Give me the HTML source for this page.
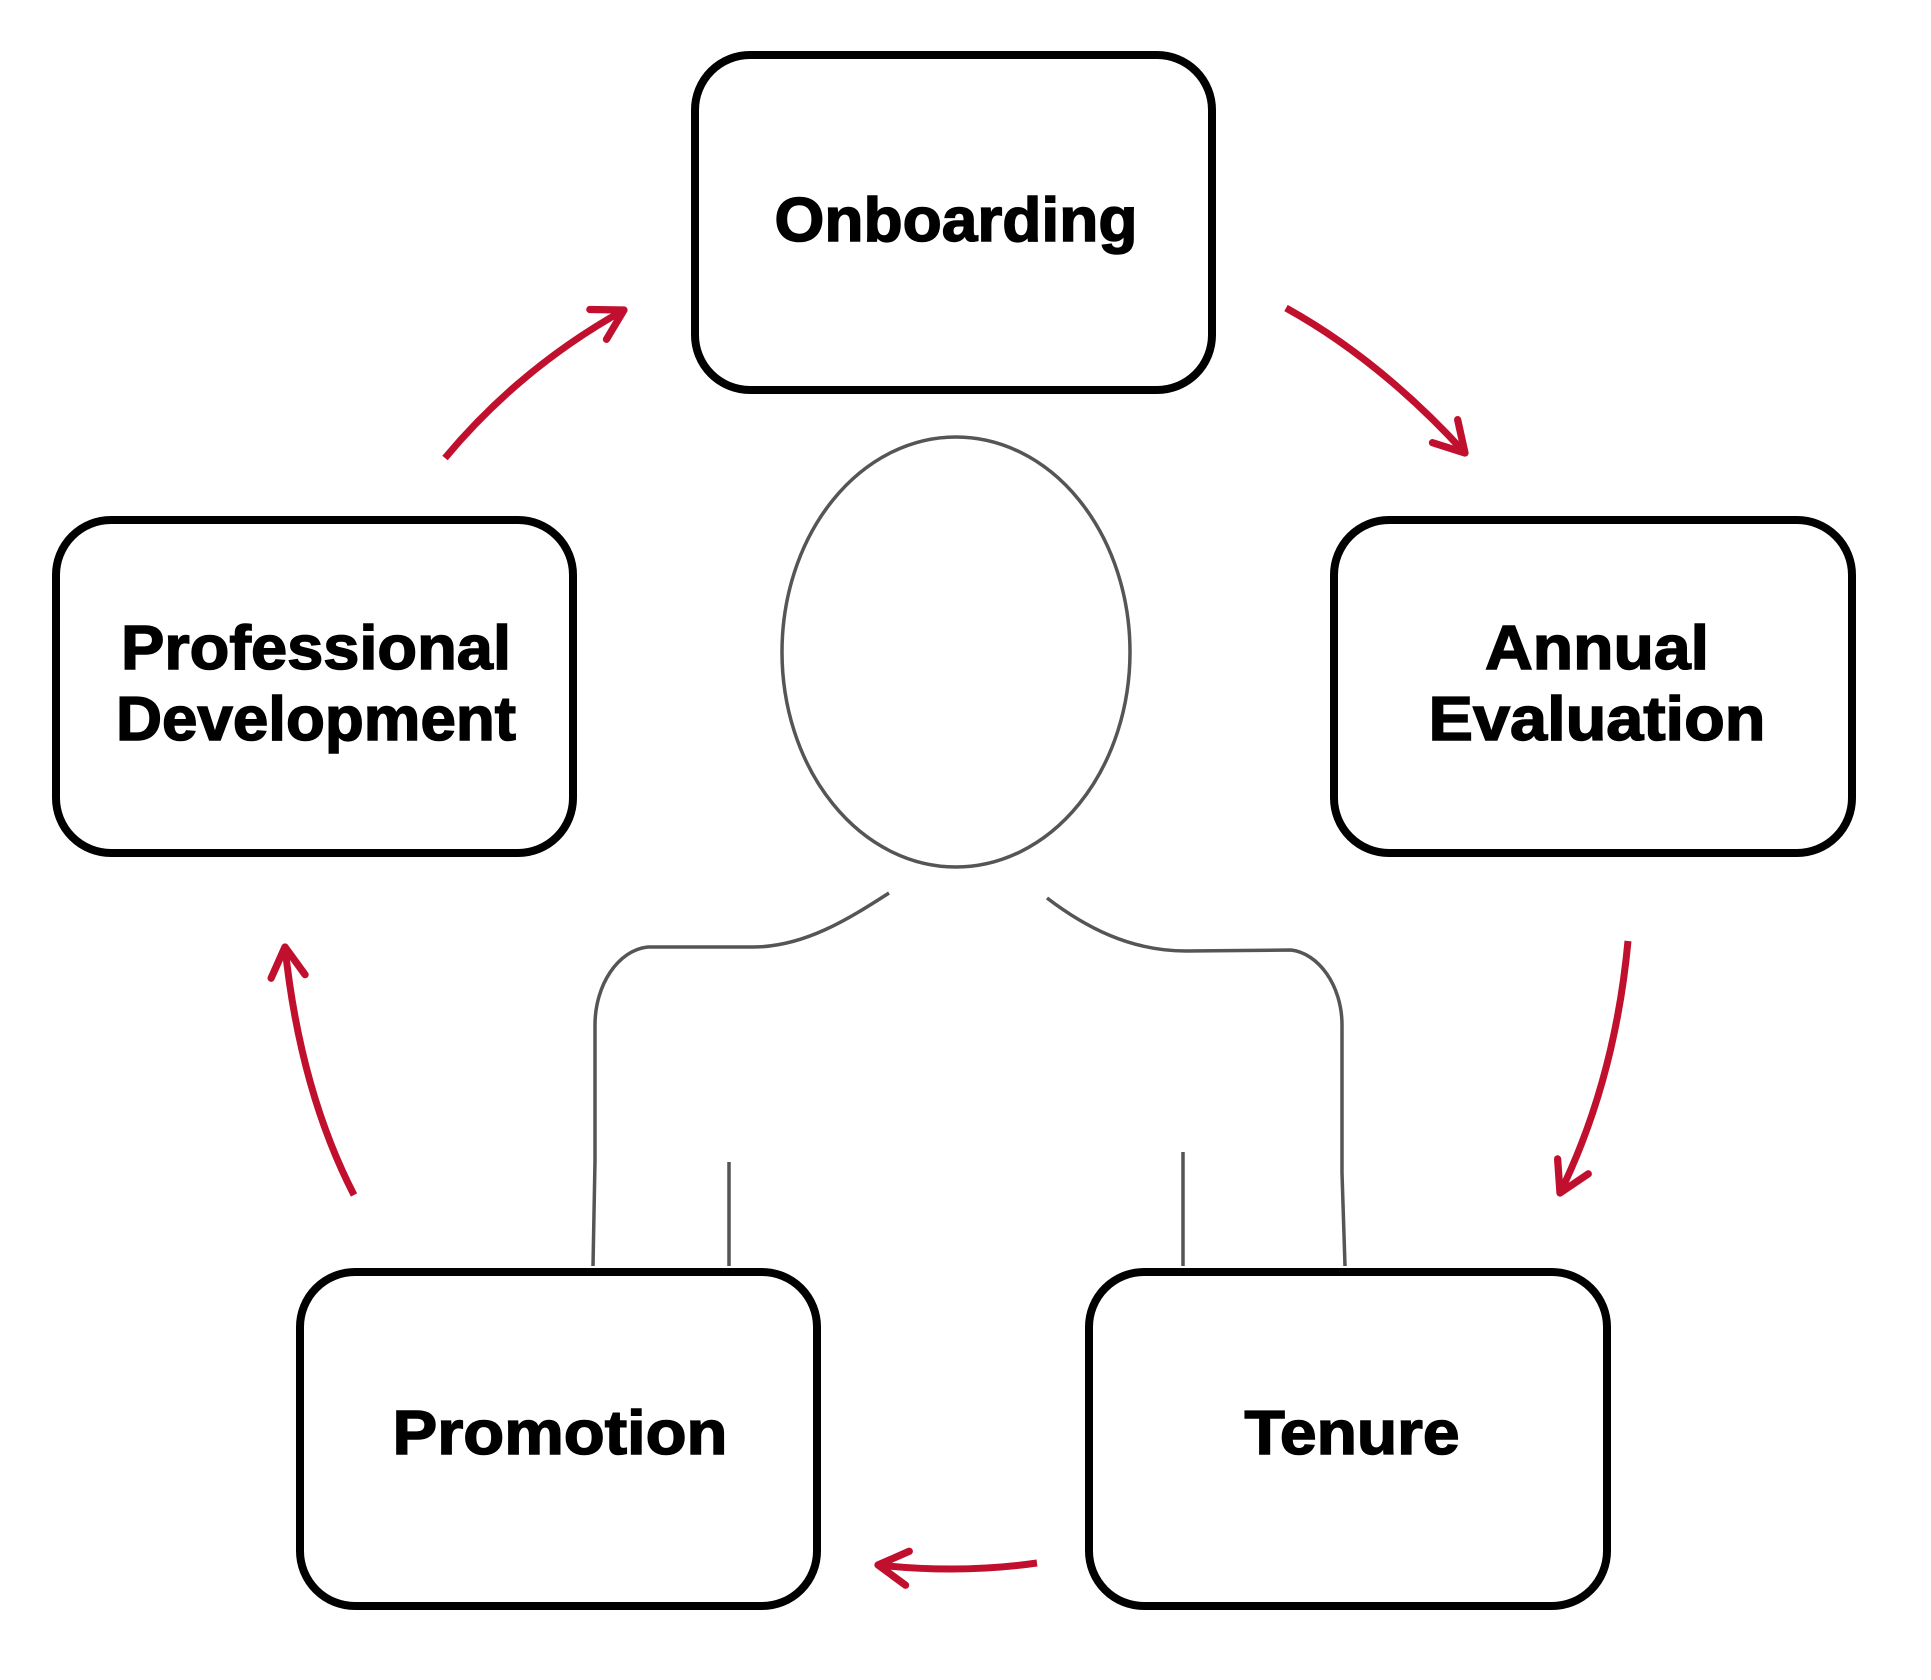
<!DOCTYPE html>
<html><head><meta charset="utf-8"><style>
html,body{margin:0;padding:0;background:#fff;}
svg{display:block}
text{font-family:"Liberation Sans",sans-serif;font-weight:bold;font-size:62px;fill:#000;text-anchor:middle;stroke:#000;stroke-width:1.5px}
</style></head><body>
<svg width="1931" height="1680" viewBox="0 0 1931 1680" xmlns="http://www.w3.org/2000/svg">
<defs>
<marker id="ah" viewBox="0 0 20 20" refX="16" refY="10" markerWidth="6.5" markerHeight="6.5" orient="auto" markerUnits="strokeWidth">
<path d="M3,2.5 L16,10 L3,17.5" fill="none" stroke="#c0102e" stroke-width="3.2" stroke-linecap="round" stroke-linejoin="round"/>
</marker>
</defs>
<g fill="#fff" stroke="#000" stroke-width="8">
<rect x="695" y="55" width="517" height="335" rx="55"/>
<rect x="56" y="520" width="517" height="333" rx="55"/>
<rect x="1334" y="520" width="518" height="333" rx="55"/>
<rect x="300" y="1272" width="517" height="334" rx="55"/>
<rect x="1089" y="1272" width="518" height="334" rx="55"/>
</g>
<text x="956" y="241" textLength="363" lengthAdjust="spacingAndGlyphs">Onboarding</text>
<text x="316" y="669" textLength="390" lengthAdjust="spacingAndGlyphs">Professional</text>
<text x="316" y="740" textLength="400" lengthAdjust="spacingAndGlyphs">Development</text>
<text x="1597" y="669" textLength="224" lengthAdjust="spacingAndGlyphs">Annual</text>
<text x="1597" y="740" textLength="337" lengthAdjust="spacingAndGlyphs">Evaluation</text>
<text x="560" y="1454" textLength="335" lengthAdjust="spacingAndGlyphs">Promotion</text>
<text x="1352" y="1454" textLength="215" lengthAdjust="spacingAndGlyphs">Tenure</text>
<g fill="none" stroke="#555" stroke-width="3.5">
<ellipse cx="956" cy="652" rx="174" ry="215"/>
<path d="M889,893 C850,918 805,947 753,947 L648,947 C618,950 595,985 595,1025 L595,1161 L593,1266"/>
<path d="M1047,898 C1085,927 1130,951 1186,951 L1291,950 C1318,953 1342,985 1342,1025 L1342,1173 L1345,1266"/>
<path d="M729,1162 L729,1266"/>
<path d="M1183,1152 L1183,1266"/>
</g>
<g fill="none" stroke="#c0102e" stroke-width="7" stroke-linecap="butt" marker-end="url(#ah)">
<path d="M445,458 Q520,368 624,310"/>
<path d="M1286,308 Q1380,360 1465,453"/>
<path d="M1628,941 Q1615,1080 1560,1193"/>
<path d="M1037,1563 Q960,1574 878,1565"/>
<path d="M354,1195 Q300,1090 285,947"/>
</g>
</svg>
</body></html>
